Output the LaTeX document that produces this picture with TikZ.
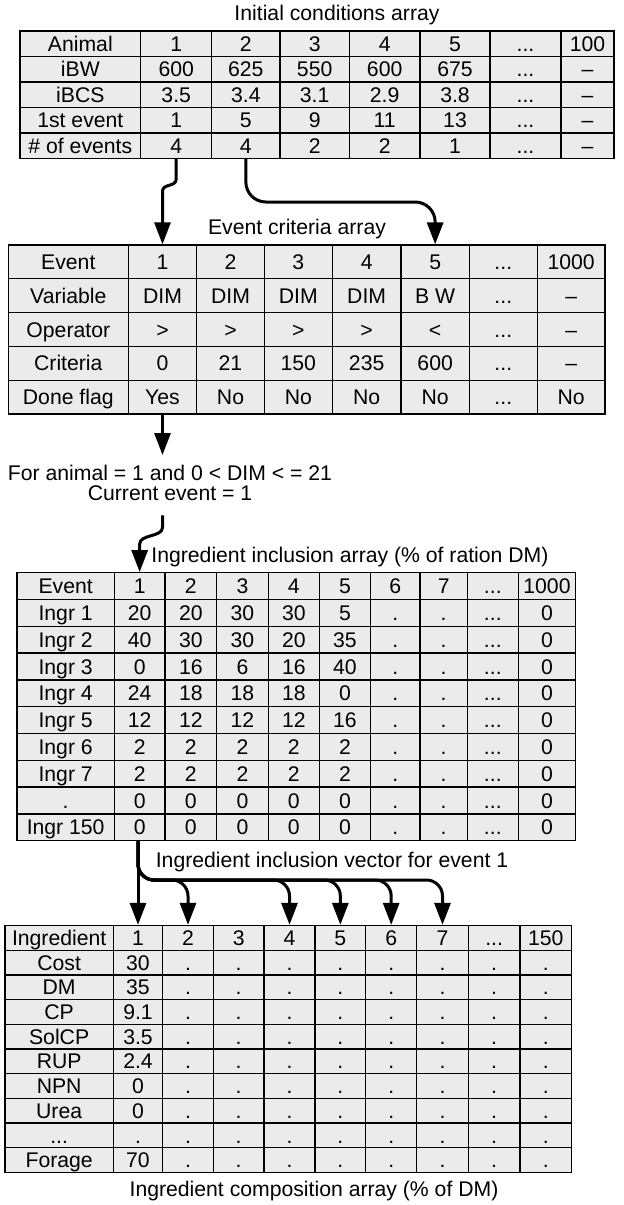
\documentclass[tikz,border=0pt]{standalone}
\usepackage{fontspec}
\setmainfont{Liberation Sans}
\usetikzlibrary{arrows.meta}
\newcommand\moredots{...}

\begin{document}
\begin{tikzpicture}[x=0.5pt,y=0.5pt,
  cell/.style={draw=black,line width=0.65pt,fill=black!8,inner sep=0pt,text height=7.6pt,text depth=0pt,font=\fontsize{10.6}{12}\selectfont},
  caption/.style={inner sep=0pt,font=\fontsize{10.6}{12}\selectfont},
  conn/.style={line width=1.5pt,-{Triangle[length=11pt,width=8pt]}}]
\useasboundingbox (0,0) rectangle (624,-1205);
\def\colsini{{20,140.7,211.7,280,349.3,420,490,561,614}}
\def\colscrit{{8.3,128.3,196.7,264.3,332.3,401,469.3,537.3,605}}
\def\colsincl{{17,114.3,165,216.7,268.3,319.3,370.7,420,467.3,518.3,575.7}}
\def\colscomp{{5,113.3,162.7,213.3,264,315,365.7,416.7,468.3,520,571.7}}

% initial conditions
\node[caption] (t-ini) at (337,-15) {Initial conditions array};
\foreach \row [count=\rw] in {{Animal,1,2,3,4,5,\moredots,100},{iBW,600,625,550,600,675,\moredots,--},{iBCS,3.5,3.4,3.1,2.9,3.8,\moredots,--},{1st event,1,5,9,11,13,\moredots,--},{\# of events,4,4,2,2,1,\moredots,--}}
  \foreach \txt [count=\cl] in \row {
    \pgfmathsetmacro\xa{\colsini[\cl-1]}
    \pgfmathsetmacro\xb{\colsini[\cl]}
    \pgfmathsetmacro\w{(\xb-\xa)*0.5}
    \node[cell,minimum width=\w pt,minimum height=12.75pt] (ini-\rw-\cl) at ({(\xa+\xb)/2},{-31-(\rw-0.5)*25.5}) {\txt};
  }

% event criteria
\node[caption] (t-crit) at (297,-229) {Event criteria array};
\foreach \row [count=\rw] in {{Event,1,2,3,4,5,\moredots,1000},{Variable,DIM,DIM,DIM,DIM,B W,\moredots,--},{Operator,>,>,>,>,<,\moredots,--},{Criteria,0,21,150,235,600,\moredots,--},{Done flag,Yes,No,No,No,No,\moredots,No}}
  \foreach \txt [count=\cl] in \row {
    \pgfmathsetmacro\xa{\colscrit[\cl-1]}
    \pgfmathsetmacro\xb{\colscrit[\cl]}
    \pgfmathsetmacro\w{(\xb-\xa)*0.5}
    \node[cell,minimum width=\w pt,minimum height=16.9pt] (crit-\rw-\cl) at ({(\xa+\xb)/2},{-245-(\rw-0.5)*33.8}) {\txt};
  }

\node[caption,align=center,font=\fontsize{10.6}{10}\selectfont] (cond) at (170,-483.2) {For animal = 1 and 0 < DIM < = 21\\Current event = 1};

% ingredient inclusion
\node[caption,anchor=west] (t-incl) at (151,-557) {Ingredient inclusion array (\% of ration DM)};
\foreach \row [count=\rw] in {{Event,1,2,3,4,5,6,7,\moredots,1000},{Ingr 1,20,20,30,30,5,.,.,\moredots,0},{Ingr 2,40,30,30,20,35,.,.,\moredots,0},{Ingr 3,0,16,6,16,40,.,.,\moredots,0},{Ingr 4,24,18,18,18,0,.,.,\moredots,0},{Ingr 5,12,12,12,12,16,.,.,\moredots,0},{Ingr 6,2,2,2,2,2,.,.,\moredots,0},{Ingr 7,2,2,2,2,2,.,.,\moredots,0},{.,0,0,0,0,0,.,.,\moredots,0},{Ingr 150,0,0,0,0,0,.,.,\moredots,0}}
  \foreach \txt [count=\cl] in \row {
    \pgfmathsetmacro\xa{\colsincl[\cl-1]}
    \pgfmathsetmacro\xb{\colsincl[\cl]}
    \pgfmathsetmacro\w{(\xb-\xa)*0.5}
    \node[cell,minimum width=\w pt,minimum height=13.4pt] (incl-\rw-\cl) at ({(\xa+\xb)/2},{-572.7-(\rw-0.5)*26.8}) {\txt};
  }

% ingredient composition
\node[caption] (t-vec) at (332,-862) {Ingredient inclusion vector for event 1};
\foreach \row [count=\rw] in {{Ingredient,1,2,3,4,5,6,7,\moredots,150},{Cost,30,.,.,.,.,.,.,.,.},{DM,35,.,.,.,.,.,.,.,.},{CP,9.1,.,.,.,.,.,.,.,.},{SolCP,3.5,.,.,.,.,.,.,.,.},{RUP,2.4,.,.,.,.,.,.,.,.},{NPN,0,.,.,.,.,.,.,.,.},{Urea,0,.,.,.,.,.,.,.,.},{\moredots,.,.,.,.,.,.,.,.,.},{Forage,70,.,.,.,.,.,.,.,.}}
  \foreach \txt [count=\cl] in \row {
    \pgfmathsetmacro\xa{\colscomp[\cl-1]}
    \pgfmathsetmacro\xb{\colscomp[\cl]}
    \pgfmathsetmacro\w{(\xb-\xa)*0.5}
    \node[cell,minimum width=\w pt,minimum height=12.35pt] (comp-\rw-\cl) at ({(\xa+\xb)/2},{-925.5-(\rw-0.5)*24.7}) {\txt};
  }
\node[caption] (t-comp) at (314,-1191) {Ingredient composition array (\% of DM)};

% connectors
\draw[conn] (ini-5-2.south) -- ++(0,-20) .. controls +(0,-8) and +(0,8) .. ([yshift=26.5pt]crit-1-2.north) -- (crit-1-2.north);
\coordinate (jog) at (0,-202);
\draw[conn,rounded corners=10pt] (ini-5-3.south) |- (jog -| crit-1-6.north) -- (crit-1-6.north);
\draw[conn] (crit-5-2.south) -- ([yshift=5pt]cond.north -| crit-5-2.south);
\draw[conn] ([yshift=-7pt]cond.south -| crit-5-2.south) -- ++(0,-12) .. controls +(0,-10) and +(0,10) .. ([yshift=14pt]incl-1-2.north) -- (incl-1-2.north);
\draw[conn] (comp-1-2.north |- incl-10-2.south) -- (comp-1-2.north);
\coordinate (fan) at (0,-880);
\foreach \cl in {3,5,6,7,8}
  \draw[conn,rounded corners=8pt] (comp-1-2.north |- incl-10-2.south) |- (fan -| comp-1-\cl.north) -- (comp-1-\cl.north);
\end{tikzpicture}
\end{document}
